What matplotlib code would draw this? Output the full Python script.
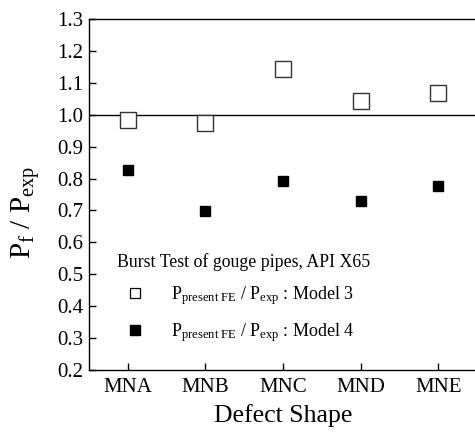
import matplotlib.pyplot as plt
from matplotlib.lines import Line2D

plt.rcParams['font.family'] = ['Liberation Serif', 'DejaVu Serif']
plt.rcParams['mathtext.fontset'] = 'custom'
plt.rcParams['mathtext.rm'] = 'Liberation Serif'
plt.rcParams['mathtext.it'] = 'Liberation Serif:italic'

shapes = ['MNA', 'MNB', 'MNC', 'MND', 'MNE']
model3 = [0.983, 0.973, 1.144, 1.043, 1.067]
model4 = [0.827, 0.698, 0.793, 0.730, 0.777]
yticks = [0.2, 0.3, 0.4, 0.5, 0.6, 0.7, 0.8, 0.9, 1.0, 1.1, 1.2, 1.3]

x = list(range(1, len(shapes) + 1))

fig = plt.figure(figsize=(4.75, 4.37), dpi=100)
ax = fig.add_axes([89 / 475, 67 / 437, 388 / 475, 351 / 437])

ax.axhline(1.0, color='black', linewidth=1.0, zorder=1)
ax.plot(x, model3, linestyle='none', marker='s', markersize=11,
        markerfacecolor='white', markeredgecolor='#333333', markeredgewidth=1.0)
ax.plot(x, model4, linestyle='none', marker='s', markersize=7.2,
        markerfacecolor='black', markeredgecolor='black')

ax.set_xlim(0.5, 5.5)
ax.set_ylim(0.2, 1.3)
ax.set_xticks(x)
ax.set_xticklabels(shapes)
ax.set_yticks(yticks)
ax.set_yticklabels([f'{v:.1f}' for v in yticks])
ax.tick_params(direction='in', length=5, width=1, labelsize=15, pad=4)
ax.tick_params(axis='x', pad=6)
ax.spines['right'].set_visible(False)
for s in ['left', 'bottom', 'top']:
    ax.spines[s].set_linewidth(1.0)

ax.set_xlabel('Defect Shape', fontsize=18.5, labelpad=5)
ax.set_ylabel(r'$\mathrm{P_f\ /\ P_{exp}}$', fontsize=21)
ax.yaxis.set_label_coords(-0.12, 0.45)

handles = [
    Line2D([], [], linestyle='none', marker='s', markersize=7,
           markerfacecolor='white', markeredgecolor='black', markeredgewidth=0.9),
    Line2D([], [], linestyle='none', marker='s', markersize=7,
           markerfacecolor='black', markeredgecolor='black'),
]
labels = [r'$\mathrm{P_{present\ FE}\ /\ P_{exp}}$ : Model 3',
          r'$\mathrm{P_{present\ FE}\ /\ P_{exp}}$ : Model 4']
leg = ax.legend(handles, labels, title='Burst Test of gouge pipes, API X65',
                loc='upper left', bbox_to_anchor=(0.04, 0.37), frameon=False,
                fontsize=13, title_fontsize=12.8, alignment='left',
                handletextpad=1.0, labelspacing=0.75, borderpad=0.2)

fig.savefig('out.png', dpi=100)
